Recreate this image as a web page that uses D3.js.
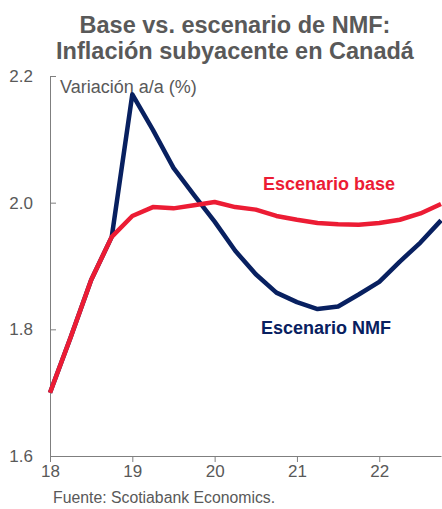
<!DOCTYPE html>
<html>
<head>
<meta charset="utf-8">
<script src="https://cdn.jsdelivr.net/npm/d3@7"></script>
<style>
    body { margin: 0; background: #fff; }
    text { font-family: "Liberation Sans", Arial, sans-serif; }
</style>
</head>
<body>
<div id="chart"></div>
<script>

// quarterly, 2018Q1 .. 2022Q4
var quarters = [18, 18.25, 18.5, 18.75, 19, 19.25, 19.5, 19.75, 20, 20.25, 20.5, 20.75,
                21, 21.25, 21.5, 21.75, 22, 22.25, 22.5, 22.75];
var baseVals = [1.70, 1.787, 1.878, 1.946, 1.979, 1.993, 1.991, 1.996, 2.001, 1.993,
                1.989, 1.979, 1.973, 1.968, 1.966, 1.965, 1.968, 1.973, 1.983, 1.998];
var nmfVals = [1.70, 1.787, 1.878, 1.946, 2.171, 2.115, 2.055, 2.012, 1.970, 1.924,
               1.887, 1.858, 1.843, 1.832, 1.836, 1.855, 1.875, 1.907, 1.937, 1.972];
var yTicks = [1.6, 1.8, 2.0, 2.2];
var xTicks = [18, 19, 20, 21, 22];

var width = 442;
var height = 509;
var grey = '#595959';

var svg = d3
    .select('#chart')
    .append('svg')
    .attr('width', width)
    .attr('height', height);

var x = d3.scaleLinear().domain([18, 22.75]).range([50, 441]);
var y = d3.scaleLinear().domain([1.6, 2.2]).range([456, 76]);

// title
var title = svg.append('g')
    .attr('font-weight', 'bold')
    .attr('font-size', 23.5)
    .attr('fill', grey)
    .attr('text-anchor', 'middle');

title.append('text').attr('x', 235).attr('y', 33).text('Base vs. escenario de NMF:');
title.append('text').attr('x', 235).attr('y', 59).text('Inflación subyacente en Canadá');

// axes
var yAxis = svg.append('g')
    .attr('transform', 'translate(50,0)')
    .call(d3.axisLeft(y)
        .tickValues(yTicks)
        .tickFormat(d3.format('.1f'))
        .tickSizeInner(-6)
        .tickSizeOuter(-6)
        .tickPadding(17));

var xAxis = svg.append('g')
    .attr('transform', 'translate(0,456)')
    .call(d3.axisBottom(x)
        .tickValues(xTicks)
        .tickFormat(d3.format('d'))
        .tickSize(6)
        .tickSizeOuter(0)
        .tickPadding(3));

svg.selectAll('.domain, .tick line').attr('stroke', '#7f7f7f');
svg.selectAll('.tick text')
    .attr('fill', grey)
    .attr('font-size', 17)
    .style('font-family', '"Liberation Sans", Arial, sans-serif');

svg.append('text')
    .attr('x', 60)
    .attr('y', 93)
    .attr('font-size', 18)
    .attr('fill', grey)
    .text('Variación a/a (%)');

// lines
var line = d3.line()
    .x((d, i) => x(quarters[i]))
    .y(d => y(d));

svg.append('path')
    .datum(nmfVals)
    .attr('d', line)
    .attr('fill', 'none')
    .attr('stroke', '#082060')
    .attr('stroke-width', 4.5)
    .attr('stroke-linejoin', 'round');

svg.append('path')
    .datum(baseVals)
    .attr('d', line)
    .attr('fill', 'none')
    .attr('stroke', '#ec1c34')
    .attr('stroke-width', 4.5)
    .attr('stroke-linejoin', 'round');

// series labels
svg.append('text')
    .attr('x', 329)
    .attr('y', 190)
    .attr('text-anchor', 'middle')
    .attr('font-weight', 'bold')
    .attr('font-size', 18)
    .attr('fill', '#ec1c34')
    .text('Escenario base');

svg.append('text')
    .attr('x', 326)
    .attr('y', 334)
    .attr('text-anchor', 'middle')
    .attr('font-weight', 'bold')
    .attr('font-size', 18)
    .attr('fill', '#082060')
    .text('Escenario NMF');

svg.append('text')
    .attr('x', 53)
    .attr('y', 503)
    .attr('font-size', 15.8)
    .attr('fill', grey)
    .text('Fuente: Scotiabank Economics.');

</script>
</body>
</html>
